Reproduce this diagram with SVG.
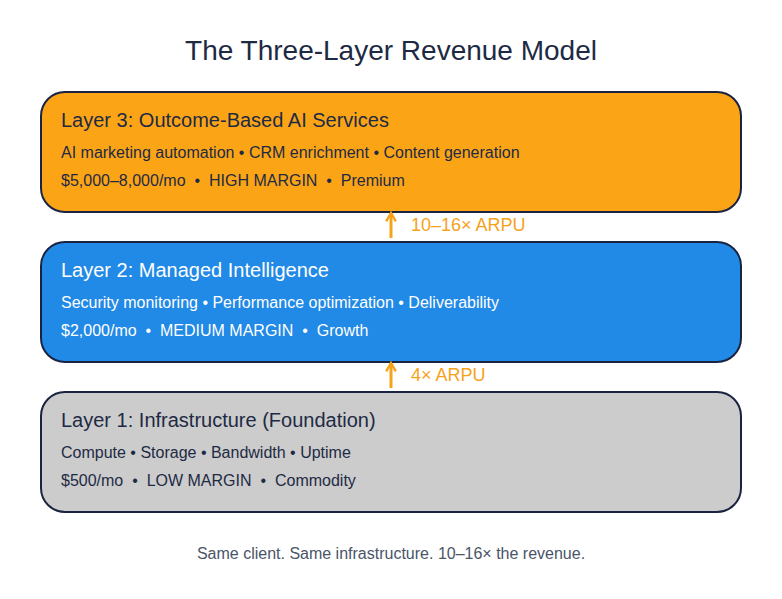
<svg xmlns="http://www.w3.org/2000/svg" width="782" height="599" viewBox="0 0 782 599">
<style>
text{font-family:"Liberation Sans",Arial,sans-serif}
.box{stroke:#1a2340;stroke-width:2}
.h{font-size:20px}
.t{font-size:16px}
.dark{fill:#1e2a44}
.light{fill:#ffffff}
.lbl{font-size:18px;fill:#f7a21b}
.conn{stroke:#f7a21b;stroke-width:3;fill:none}
</style>
<defs>
<marker id="ah" viewBox="0 0 10 10" refX="8" refY="5" markerWidth="4" markerHeight="4" orient="auto" markerUnits="strokeWidth">
<path d="M1,1 L8,5 L1,9" fill="none" stroke="#f7a21b" stroke-width="2"/>
</marker>
</defs>
<rect width="782" height="599" fill="#ffffff"/>
<text x="391" y="60" text-anchor="middle" font-size="28" fill="#1e2a44">The Three-Layer Revenue Model</text>
<g id="layer3">
<rect class="box" x="41" y="92" width="700" height="120" rx="24" fill="#fba516"/>
<text class="h dark" x="61" y="127">Layer 3: Outcome-Based AI Services</text>
<text class="t dark" x="61" y="158">AI marketing automation • CRM enrichment • Content generation</text>
<text class="t dark" x="61" y="186" xml:space="preserve">$5,000–8,000/mo  •  HIGH MARGIN  •  Premium</text>
</g>
<g id="layer2">
<rect class="box" x="41" y="242" width="700" height="120" rx="24" fill="#2189e6"/>
<text class="h light" x="61" y="277">Layer 2: Managed Intelligence</text>
<text class="t light" x="61" y="308">Security monitoring • Performance optimization • Deliverability</text>
<text class="t light" x="61" y="336" xml:space="preserve">$2,000/mo  •  MEDIUM MARGIN  •  Growth</text>
</g>
<g id="layer1">
<rect class="box" x="41" y="392" width="700" height="120" rx="24" fill="#cccccc"/>
<text class="h dark" x="61" y="427">Layer 1: Infrastructure (Foundation)</text>
<text class="t dark" x="61" y="458">Compute • Storage • Bandwidth • Uptime</text>
<text class="t dark" x="61" y="486" xml:space="preserve">$500/mo  •  LOW MARGIN  •  Commodity</text>
</g>
<g id="connectors">
<line class="conn" x1="391" y1="238" x2="391" y2="213" marker-end="url(#ah)"/>
<text class="lbl" x="411" y="231">10–16× ARPU</text>
<line class="conn" x1="391" y1="388" x2="391" y2="363" marker-end="url(#ah)"/>
<text class="lbl" x="411" y="381">4× ARPU</text>
</g>
<text x="391" y="559" text-anchor="middle" font-size="16" fill="#4a5568">Same client. Same infrastructure. 10–16× the revenue.</text>
</svg>
